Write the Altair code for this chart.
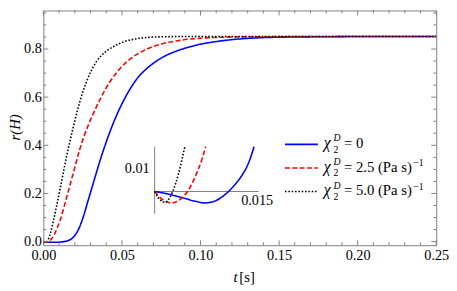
import altair as alt
import pandas as pd

SERIF = "Liberation Serif"
FRAME = "#808080"
BLUE = "#0000ff"
RED = "#ff0000"
BLACK = "#000000"

# ---------------- main curves: r(H) versus t [s] ----------------
t_blue = [0, 0.006, 0.012, 0.015, 0.018, 0.0205, 0.023, 0.0255, 0.028, 0.0305, 0.033,
          0.036, 0.039, 0.042, 0.045, 0.048, 0.051, 0.055, 0.06, 0.066, 0.072, 0.078,
          0.085, 0.091, 0.1, 0.108, 0.12, 0.135, 0.15, 0.18, 0.21, 0.25]
r_blue = [0, -0.003, -0.001, 0.003, 0.012, 0.03, 0.06, 0.105, 0.16, 0.215, 0.27,
          0.335, 0.395, 0.45, 0.5, 0.545, 0.585, 0.632, 0.68, 0.72, 0.75, 0.773,
          0.792, 0.805, 0.82, 0.829, 0.839, 0.846, 0.849, 0.851, 0.852, 0.852]

t_red = [0, 0.0015, 0.003, 0.005, 0.007, 0.009, 0.011, 0.013, 0.0155, 0.018, 0.0205,
         0.023, 0.026, 0.029, 0.032, 0.036, 0.042, 0.049, 0.06, 0.066, 0.077, 0.087,
         0.1, 0.115, 0.14, 0.18, 0.25]
r_red = [0, -0.003, -0.002, 0.01, 0.03, 0.06, 0.095, 0.14, 0.2, 0.26, 0.32,
         0.38, 0.44, 0.49, 0.535, 0.59, 0.66, 0.72, 0.78, 0.80, 0.824, 0.836,
         0.845, 0.849, 0.851, 0.852, 0.852]

t_blk = [0, 0.0015, 0.003, 0.0046, 0.0065, 0.0088, 0.011, 0.013, 0.015, 0.017, 0.019,
         0.0215, 0.0245, 0.0275, 0.0305, 0.034, 0.037, 0.042, 0.0475, 0.053, 0.06,
         0.068, 0.0775, 0.09, 0.25]
r_blk = [0, -0.003, 0.008, 0.038, 0.09, 0.16, 0.23, 0.297, 0.36, 0.419, 0.475,
         0.54, 0.61, 0.665, 0.71, 0.75, 0.773, 0.80, 0.82, 0.834, 0.843,
         0.849, 0.851, 0.852, 0.852]

# ---------------- inset curves (zoom near t = 0) ----------------
it_blue = [0, 0.0015, 0.003, 0.0045, 0.006, 0.0073, 0.0086, 0.0098, 0.0108, 0.0118,
           0.0128, 0.0137, 0.01455]
ir_blue = [0, -0.0008, -0.0019, -0.0031, -0.0043, -0.005, -0.0044, -0.0025, 0.0, 0.0032,
           0.0072, 0.0122, 0.0196]
it_red = [0, 0.0006, 0.0012, 0.0018, 0.00244, 0.0031, 0.0038, 0.0048, 0.0056, 0.0064,
          0.0070, 0.00747]
ir_red = [0, -0.002, -0.0036, -0.0046, -0.005, -0.0046, -0.0033, 0.0, 0.0043, 0.0098,
          0.0148, 0.0196]
it_blk = [0, 0.0004, 0.0008, 0.0012, 0.00149, 0.0018, 0.0022, 0.00264, 0.0031, 0.0035,
          0.0040, 0.00442]
ir_blk = [0, -0.0022, -0.0036, -0.0045, -0.0047, -0.0043, -0.0027, 0.0, 0.0037, 0.0078,
          0.0140, 0.0196]

# ---------------- ticks ----------------
x_major = [0.0, 0.05, 0.10, 0.15, 0.20, 0.25]
x_minor = [0.01, 0.02, 0.03, 0.04, 0.06, 0.07, 0.08, 0.09, 0.11, 0.12, 0.13, 0.14,
           0.16, 0.17, 0.18, 0.19, 0.21, 0.22, 0.23, 0.24]
y_major = [0.0, 0.2, 0.4, 0.6, 0.8]
y_minor = [0.05, 0.1, 0.15, 0.25, 0.3, 0.35, 0.45, 0.5, 0.55, 0.65, 0.7, 0.75,
           0.85, 0.9, 0.95]
inset_y_label = [0.01]
inset_x_label = [0.015]

legend_values = ["0", "2.5 (Pa s)", "5.0 (Pa s)"]
legend_colors = [BLUE, RED, BLACK]
legend_dash = [[1, 0], [5, 2.5], [1.6, 1.8]]

W, H = 400, 239
xs = alt.Scale(domain=[0, 0.25], nice=False, zero=False)
ys = alt.Scale(domain=[-0.015, 0.96], nice=False, zero=False)
ixs = alt.Scale(domain=[0, 0.01523], range=[113.3, 219.3], nice=False, zero=False)
iys = alt.Scale(domain=[-0.00974, 0.01957], range=[207, 138.7], nice=False, zero=False)

layers = []

x_axis = alt.Axis(values=x_major, format=".2f", ticks=False, domain=False, grid=False,
                  labelFont=SERIF, labelFontSize=14.5, labelColor="black",
                  labelPadding=4, labelFlush=False, labelOverlap=False, title=None)
y_axis = alt.Axis(values=y_major, format=".1f", ticks=False, domain=False, grid=False,
                  labelFont=SERIF, labelFontSize=14.5, labelColor="black",
                  labelPadding=2, labelFlush=False, labelOverlap=False, title=None)


def curve(ts, rs, color, dash, xscale, yscale, first=False):
    df = pd.DataFrame({"t": ts, "r": rs})
    return alt.Chart(df).mark_line(
        color=color, strokeWidth=1.6, strokeDash=dash, interpolate="monotone",
        strokeCap="butt"
    ).encode(
        x=alt.X("t:Q", scale=xscale, axis=x_axis if first else None),
        y=alt.Y("r:Q", scale=yscale, axis=y_axis if first else None),
    )


layers.append(curve(t_blue, r_blue, BLUE, [1, 0], xs, ys, first=True))
layers.append(curve(t_red, r_red, RED, [5, 2.5], xs, ys))
layers.append(curve(t_blk, r_blk, BLACK, [1.6, 1.8], xs, ys))


def xticks(vals, length):
    df = pd.DataFrame({"v": vals})
    bot = alt.Chart(df).mark_rule(color=FRAME, strokeWidth=1).encode(
        x=alt.X("v:Q", scale=xs, axis=None), y=alt.value(H), y2=alt.value(H - length))
    top = alt.Chart(df).mark_rule(color=FRAME, strokeWidth=1).encode(
        x=alt.X("v:Q", scale=xs, axis=None), y=alt.value(0), y2=alt.value(length))
    return [bot, top]


def yticks(vals, length):
    df = pd.DataFrame({"v": vals})
    left = alt.Chart(df).mark_rule(color=FRAME, strokeWidth=1).encode(
        y=alt.Y("v:Q", scale=ys, axis=None), x=alt.value(0), x2=alt.value(length))
    right = alt.Chart(df).mark_rule(color=FRAME, strokeWidth=1).encode(
        y=alt.Y("v:Q", scale=ys, axis=None), x=alt.value(W), x2=alt.value(W - length))
    return [left, right]


layers += xticks(x_major, 5) + xticks(x_minor, 3)
layers += yticks(y_major, 5) + yticks(y_minor, 3)

# ---------------- inset ----------------
inset_hx = pd.DataFrame({"a": [0.0], "b": [0.01523], "y": [0.0]})
layers.append(alt.Chart(inset_hx).mark_rule(color=FRAME, strokeWidth=1).encode(
    x=alt.X("a:Q", scale=ixs, axis=None), x2="b:Q",
    y=alt.Y("y:Q", scale=iys, axis=None)))
inset_vy = pd.DataFrame({"a": [-0.00974], "b": [0.01957], "x": [0.0]})
layers.append(alt.Chart(inset_vy).mark_rule(color=FRAME, strokeWidth=1).encode(
    y=alt.Y("a:Q", scale=iys, axis=None), y2="b:Q",
    x=alt.X("x:Q", scale=ixs, axis=None)))

layers.append(curve(it_blue, ir_blue, BLUE, [1, 0], ixs, iys))
layers.append(curve(it_red, ir_red, RED, [5, 2.5], ixs, iys))
layers.append(curve(it_blk, ir_blk, BLACK, [1.6, 1.8], ixs, iys))

ylab = pd.DataFrame({"x": [0.0], "y": inset_y_label, "s": ["0.01"]})
layers.append(alt.Chart(ylab).mark_text(
    font=SERIF, fontSize=14.5, color="black", align="right", baseline="middle", dx=-5
).encode(x=alt.X("x:Q", scale=ixs, axis=None), y=alt.Y("y:Q", scale=iys, axis=None),
         text="s:N"))
xlab = pd.DataFrame({"x": inset_x_label, "y": [0.0], "s": ["0.015"]})
layers.append(alt.Chart(xlab).mark_text(
    font=SERIF, fontSize=14.5, color="black", align="center", baseline="top", dy=3
).encode(x=alt.X("x:Q", scale=ixs, axis=None), y=alt.Y("y:Q", scale=iys, axis=None),
         text="s:N"))

# ---------------- text helpers ----------------
one = pd.DataFrame({"a": [0]})


def txt(s, x, y, size=14.5, style="normal", align="left", baseline="alphabetic", angle=0):
    return alt.Chart(one).mark_text(
        font=SERIF, fontSize=size, fontStyle=style, color="black", align=align,
        baseline=baseline, angle=angle
    ).encode(x=alt.value(x), y=alt.value(y), text=alt.value(s))


# axis titles
layers.append(txt("r(H)", -28.5, 119, size=15, style="italic", align="center",
                  baseline="middle", angle=270))
layers.append(txt("t", 193.5, 276, size=15, style="italic"))
layers.append(txt("[s]", 199.5, 276, size=15))

# legend
for i, (val, col, dash) in enumerate(zip(legend_values, legend_colors, legend_dash)):
    yl = 136.3 + 24 * i
    yb = 140 + 24 * i
    layers.append(alt.Chart(one).mark_rule(color=col, strokeWidth=1.6, strokeDash=dash,
                                           strokeCap="butt").encode(
        x=alt.value(246), x2=alt.value(279.5), y=alt.value(yl)))
    layers.append(txt("\u03c7", 285.5, yb, size=16, style="italic"))
    layers.append(txt("D", 295.5, yb - 6.7, size=10, style="italic"))
    layers.append(txt("2", 295.5, yb + 5, size=10))
    layers.append(txt("= " + val, 306, yb, size=15))
    if i > 0:
        layers.append(txt("\u22121", 376.5, yb - 5.7, size=10))

chart = alt.layer(*layers).resolve_scale(x="independent", y="independent").properties(
    width=W, height=H,
    padding={"left": 36, "top": 0, "right": 13, "bottom": 40},
    autosize=alt.AutoSizeParams(type="none"),
).configure_view(stroke=FRAME, strokeWidth=1)

chart.save("out.html", embed_options={"renderer": "svg", "actions": False})
